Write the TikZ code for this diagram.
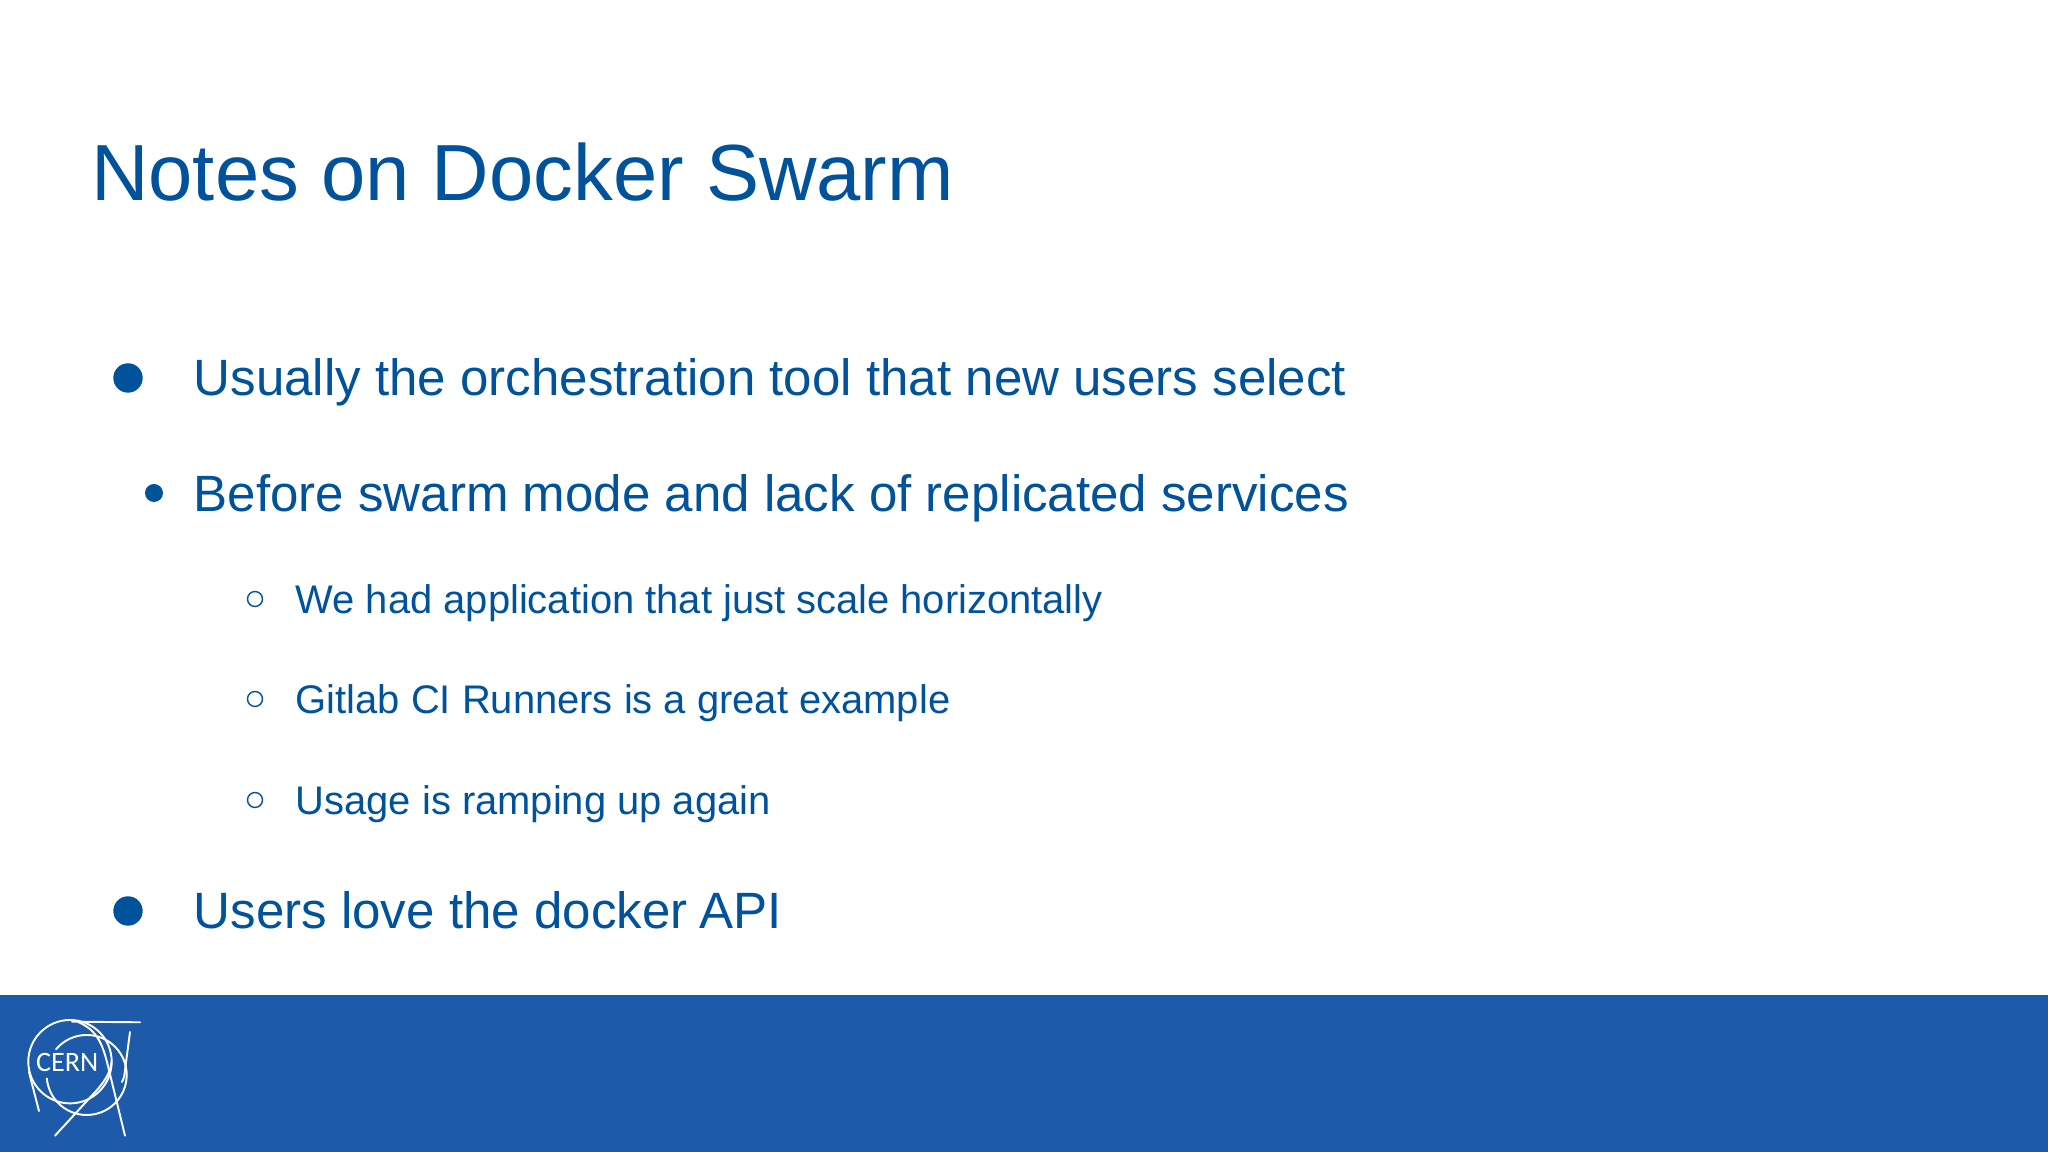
\documentclass[tikz,border=0pt]{standalone}
\usepackage{fontspec}
\setmainfont{Liberation Sans}
\newfontfamily\logofont{Carlito}
\definecolor{slideblue}{HTML}{00529B}
\definecolor{footerblue}{HTML}{1E5AAA}
\tikzset{
    titletext/.style={anchor=base west,inner sep=0pt,text=slideblue,font=\fontsize{22.65}{27}\selectfont},
    bigtext/.style={anchor=base west,inner sep=0pt,text=slideblue,font=\fontsize{14.53}{18}\selectfont},
    smalltext/.style={anchor=base west,inner sep=0pt,text=slideblue,font=\fontsize{11.36}{14}\selectfont},
    logoline/.style={white,line width=0.55pt,line cap=round}
}
\begin{document}
\begin{tikzpicture}
    \useasboundingbox (0,0) rectangle (20.48,11.52);

    % Footer band
    \fill[footerblue] (0,0) rectangle (20.48,1.57);

    % Title
    \node[titletext] (title) at (0.905,9.51) {Notes on Docker Swarm};

    % First level
    \node[bigtext] (usually) at (1.93,7.56) {Usually the orchestration tool that new users select};
    \node[bigtext] (before) at (1.93,6.40) {Before swarm mode and lack of replicated services};
    \node[bigtext] (users) at (1.93,2.23) {Users love the docker\kern-0.05em{} API};

    % Second level
    \node[smalltext] (had) at (2.95,5.38) {We had application that just scale horizontally};
    \node[smalltext] (gitlab) at (2.95,4.38) {Gitlab CI Runners is a great example};
    \node[smalltext] (usage) at (2.95,3.37) {Usage is ramping up again};

    % Bullets
    \fill[slideblue] (1.28,7.74) circle (0.147);
    \fill[slideblue] (1.54,6.59) circle (0.09);
    \fill[slideblue] (1.28,2.41) circle (0.147);
    \foreach \y in {5.53,4.53,3.52} {
        \draw[slideblue,line width=0.4pt] (2.55,\y) circle (0.075);
    }

    % Logo
    \draw[logoline] (0.70,0.903) circle (0.417);
    \draw[logoline] (0.867,0.77) ++(140:0.40) arc (140:-175:0.40);
    \draw[logoline] (0.72,1.303) -- (1.40,1.297); % Top
    \draw[logoline] (1.30,1.20) -- (1.25,0.82) .. controls (1.245,0.76) and (1.24,0.74) .. (1.22,0.70); % Right
    \draw[logoline] (0.55,0.163) -- (0.97,0.62) .. controls (1.06,0.72) and (1.11,0.82) .. (1.115,0.90); % Diagonal
    \draw[logoline] (1.25,0.163) -- (1.07,0.90) .. controls (1.03,1.05) and (0.98,1.22) .. (0.78,1.30); % Long leg
    \draw[logoline] (0.39,0.41) -- (0.31,0.72) .. controls (0.30,0.76) and (0.295,0.78) .. (0.29,0.80); % Left leg
    \node[inner sep=0pt,white,font=\logofont\fontsize{8}{9}\selectfont] (cern) at (0.673,0.90) {CERN};
\end{tikzpicture}
\end{document}
